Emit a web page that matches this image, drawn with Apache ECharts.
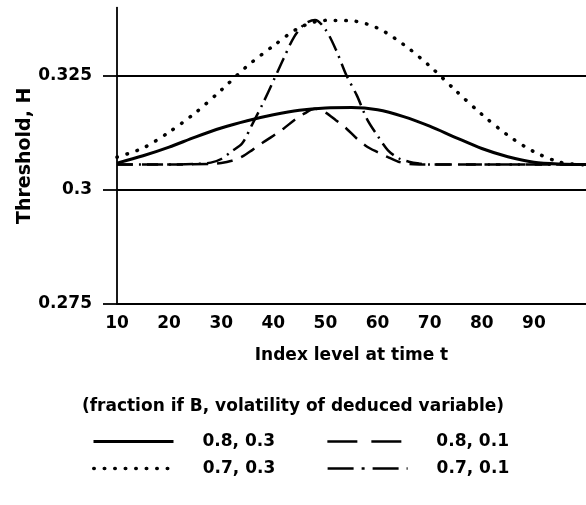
<!DOCTYPE html>
<html><head><meta charset="utf-8">
<script src="https://cdn.jsdelivr.net/npm/echarts@6/dist/echarts.min.js"></script>
<style>html,body{margin:0;padding:0;background:#fff}#c{width:586px;height:505px}</style>
</head><body><div id="c"></div>
<script>
const xTicks = [10, 20, 30, 40, 50, 60, 70, 80, 90];
const yTicks = [0.275, 0.3, 0.325];
const xAxisName = 'Index level at time t';
const yAxisName = 'Threshold, H';
const legendTitle = '(fraction if B, volatility of deduced variable)';
const seriesNames = ['0.8, 0.3', '0.8, 0.1', '0.7, 0.3', '0.7, 0.1'];

// 0.8, 0.3 (solid)
const solidX = [10, 15, 20, 25, 30, 35, 40, 45, 50, 55, 60, 65, 70, 75, 80, 85, 90, 95, 100];
const solidY = [0.3059, 0.3075, 0.3094, 0.3116, 0.3136, 0.3152, 0.3165, 0.3175, 0.3180, 0.3181, 0.3176, 0.3161, 0.3140, 0.3115, 0.3091, 0.3073, 0.3061, 0.3057, 0.3056];

// 0.8, 0.1 (dashed)
const dashX = [10, 20, 28, 30, 32, 34, 36, 38, 40, 42, 44, 46, 48, 50, 52, 54, 56, 58, 60, 62, 64, 66, 68, 80, 100];
const dashY = [0.3056, 0.3056, 0.3057, 0.3059, 0.3064, 0.3073, 0.3088, 0.3104, 0.3119, 0.3135, 0.3153, 0.3168, 0.3178, 0.3170, 0.3153, 0.3135, 0.3113, 0.3095, 0.3083, 0.3072, 0.3062, 0.3057, 0.3056, 0.3056, 0.3056];

// 0.7, 0.3 (dotted)
const dotX = [10, 15, 20, 25, 30, 35, 40, 45, 50, 55, 60, 65, 70, 75, 80, 85, 90, 95, 100];
const dotY = [0.3072, 0.3092, 0.3127, 0.3169, 0.3219, 0.3272, 0.3316, 0.3356, 0.3372, 0.3371, 0.3355, 0.3319, 0.3272, 0.3218, 0.3166, 0.3120, 0.3084, 0.3061, 0.3055];

// 0.7, 0.1 (dash-dot)
const ddX = [10, 20, 25, 28, 30, 32, 34, 36, 38, 40, 42, 44, 46, 48, 50, 52, 54, 56, 58, 60, 62, 64, 66, 68, 70, 80, 100];
const ddY = [0.3056, 0.3056, 0.3057, 0.3060, 0.3068, 0.3085, 0.3102, 0.3145, 0.3190, 0.3239, 0.3289, 0.3336, 0.3364, 0.3373, 0.3352, 0.3308, 0.3252, 0.3208, 0.3155, 0.3119, 0.3087, 0.3070, 0.3062, 0.3058, 0.3056, 0.3056, 0.3056];

const FONT = 'DejaVu Sans';
const txt = (size) => ({ fontFamily: FONT, fontWeight: 'bold', fontSize: size, color: '#000' });
const pairs = (xs, ys) => xs.map((x, i) => [x, ys[i]]);

const legendBase = {
  left: 87, itemWidth: 80, itemHeight: 14, itemGap: 51, selectedMode: false,
  textStyle: Object.assign(txt(17), { padding: [0, 0, 0, 24] }),
  itemStyle: { opacity: 0 }, lineStyle: { width: 'inherit' }
};

const chart = echarts.init(document.getElementById('c'), null, { renderer: 'canvas' });
chart.setOption({
  animation: false,
  backgroundColor: '#fff',
  grid: { left: 117, right: -18, top: 7.6, bottom: 201, containLabel: false },
  title: { text: legendTitle, left: 'center', top: 393, textStyle: txt(17) },
  legend: [
    Object.assign({}, legendBase, { top: 428, data: [
      { name: seriesNames[0] },
      { name: seriesNames[1], lineStyle: { type: [30, 14] } }
    ] }),
    Object.assign({}, legendBase, { top: 455, data: [
      { name: seriesNames[2] },
      { name: seriesNames[3], lineStyle: { type: [26, 8, 3, 8] } }
    ] })
  ],
  xAxis: {
    type: 'value', min: 10, max: 100, interval: 10,
    axisLine: { show: true, lineStyle: { color: '#000', width: 1.8 } },
    axisTick: { show: false },
    splitLine: { show: false },
    axisLabel: { customValues: xTicks, margin: 11, ...txt(17) },
    name: xAxisName, nameLocation: 'middle', nameGap: 43, nameMoveOverlap: false, nameTextStyle: txt(17)
  },
  yAxis: {
    type: 'value', min: 0.275, max: 0.34, interval: 0.025,
    axisLine: { show: true, lineStyle: { color: '#000', width: 1.8 } },
    axisTick: { show: true, inside: false, length: 14, customValues: yTicks, lineStyle: { color: '#000', width: 1.8 } },
    axisLabel: { customValues: yTicks, margin: 25, formatter: v => String(parseFloat(Number(v).toFixed(3))), ...txt(17) },
    splitLine: { show: true, showMinLine: true, showMaxLine: true, lineStyle: { color: '#000', width: 1.8 } },
    name: yAxisName, nameLocation: 'middle', nameGap: 82, nameMoveOverlap: false, nameTextStyle: txt(19)
  },
  series: [
    { name: seriesNames[0], type: 'line', data: pairs(solidX, solidY), symbol: 'none', smooth: 0.3, color: '#000',
      lineStyle: { color: '#000', width: 3 } },
    { name: seriesNames[1], type: 'line', data: pairs(dashX, dashY), symbol: 'none', smooth: 0.3, color: '#000',
      lineStyle: { color: '#000', width: 2.5, type: [16, 9] } },
    { name: seriesNames[2], type: 'line', data: pairs(dotX, dotY), symbol: 'none', smooth: 0.3, color: '#000',
      lineStyle: { color: '#000', width: 3.5, type: [0.5, 10], cap: 'round' } },
    { name: seriesNames[3], type: 'line', data: pairs(ddX, ddY), symbol: 'none', smooth: 0.3, color: '#000',
      lineStyle: { color: '#000', width: 2.5, type: [16, 6, 2, 6] } }
  ]
});
</script>
</body></html>
